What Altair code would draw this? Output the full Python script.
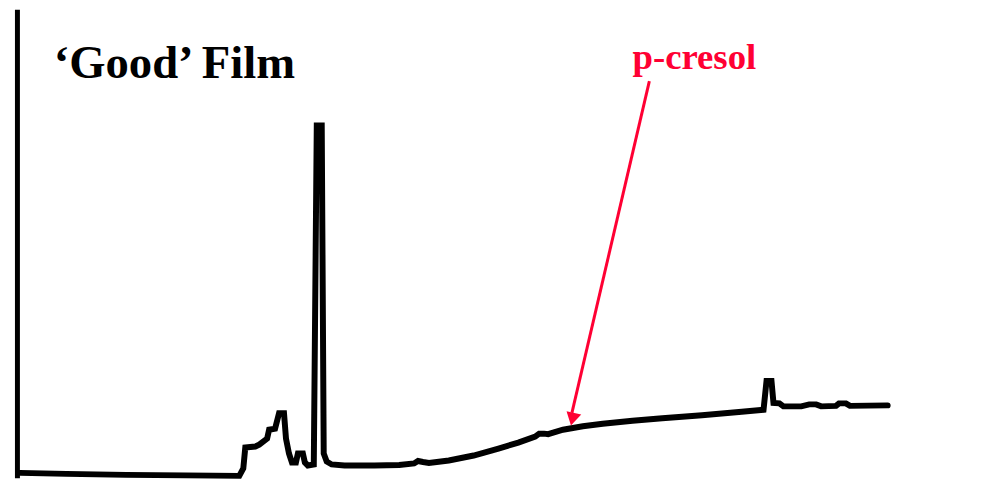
import altair as alt
import pandas as pd

# Chromatogram trace (x: run position, arbitrary units; s: detector signal)
run_pos = [13, 60, 120, 180, 234, 238, 240, 250, 254, 258, 262, 264, 270, 274, 279, 281,
           284, 287, 291, 293, 298, 300, 303, 309, 312, 317, 319, 322, 327, 340, 370, 395,
           410, 414, 419, 425, 445, 470, 495, 515, 532, 536, 541, 545, 560, 580, 600, 630,
           660, 700, 740, 762, 765, 770, 772, 778, 782, 800, 808, 815, 820, 835, 838, 845,
           849, 887]
signal = [6.5, 5.5, 4.5, 4, 3.5, 11, 32, 33, 35, 38, 41, 50, 51, 66.5, 66.5, 41,
          26, 17, 17, 26, 26, 17, 14, 15, 356.5, 356.5, 26, 18, 15, 14, 14, 14.5,
          16, 18.5, 17.5, 16.5, 19, 24, 31, 37, 43, 46, 46, 45.5, 50, 53.5, 56, 59,
          61.5, 64.5, 68, 70, 99, 99, 77, 76.5, 73.5, 73.5, 75.5, 75.5, 73.5, 74, 76.5, 76.5,
          74, 74.5]

# Texts
title_text = ["\u2018Good\u2019 Film"]
title_pos = [47]
title_sig = [404]
label_text = ["p-cresol"]
label_pos = [630]
label_sig = [413]

# Annotation arrow (start -> head)
arrow_pos = [647, 569]
arrow_sig = [401, 67]
head_pos = [569.5]
head_sig = [60.5]
head_angle = [13]

# Black frame band on the left
band_pos = [8, 13]
band_sig = [1, 473]

xs = alt.Scale(domain=[8, 977], nice=False, zero=False)
ys = alt.Scale(domain=[1, 473], nice=False, zero=False)

trace = pd.DataFrame({"t": run_pos, "s": signal, "i": list(range(len(run_pos)))})

line = alt.Chart(trace).mark_line(color="black", strokeWidth=6, strokeJoin="miter",
                                  strokeCap="round", interpolate="linear").encode(
    x=alt.X("t:Q", scale=xs, axis=None),
    y=alt.Y("s:Q", scale=ys, axis=None),
    order="i:Q",
)

band = alt.Chart(pd.DataFrame({"x": [band_pos[0]], "x2": [band_pos[1]],
                               "y": [band_sig[0]], "y2": [band_sig[1]]})).mark_rect(
    color="black").encode(
    x=alt.X("x:Q", scale=xs, axis=None), x2="x2:Q",
    y=alt.Y("y:Q", scale=ys, axis=None), y2="y2:Q",
)

title = alt.Chart(pd.DataFrame({"x": title_pos, "y": title_sig, "t": title_text})).mark_text(
    font="Liberation Serif", fontWeight="bold", fontSize=47, color="black",
    align="left", baseline="alphabetic").encode(
    x=alt.X("x:Q", scale=xs, axis=None), y=alt.Y("y:Q", scale=ys, axis=None), text="t:N")

label = alt.Chart(pd.DataFrame({"x": label_pos, "y": label_sig, "t": label_text})).mark_text(
    font="Liberation Serif", fontWeight="bold", fontSize=37, color="#FF0033",
    align="left", baseline="alphabetic").encode(
    x=alt.X("x:Q", scale=xs, axis=None), y=alt.Y("y:Q", scale=ys, axis=None), text="t:N")

arrow = alt.Chart(pd.DataFrame({"x": [arrow_pos[0]], "x2": [arrow_pos[1]],
                                "y": [arrow_sig[0]], "y2": [arrow_sig[1]]})).mark_rule(
    color="#FF0033", strokeWidth=3).encode(
    x=alt.X("x:Q", scale=xs, axis=None), x2="x2:Q",
    y=alt.Y("y:Q", scale=ys, axis=None), y2="y2:Q")

head = alt.Chart(pd.DataFrame({"x": head_pos, "y": head_sig, "a": head_angle})).mark_point(
    shape="triangle-down", filled=True, color="#FF0033", size=230, opacity=1).encode(
    x=alt.X("x:Q", scale=xs, axis=None), y=alt.Y("y:Q", scale=ys, axis=None),
    angle=alt.Angle("a:Q", scale=None))

chart = alt.layer(band, line, title, label, arrow, head).properties(
    width=969, height=472, padding=0, background="white"
).configure_view(stroke=None)

chart.save("out.html", embed_options={"renderer": "svg", "actions": False})
